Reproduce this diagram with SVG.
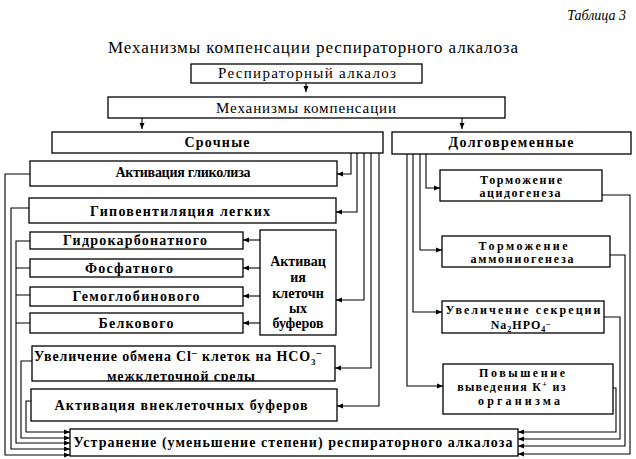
<svg xmlns="http://www.w3.org/2000/svg" width="636" height="459" viewBox="0 0 636 459" font-family="'Liberation Serif', 'DejaVu Serif', 'Noto Serif', serif">
<style>
.box{fill:#fff;stroke:#000;stroke-width:1.3}
.ln{fill:none;stroke:#000;stroke-width:1.1}
text{font-family:'Liberation Serif','DejaVu Serif',serif;fill:#000}
.b{font-weight:bold;font-size:14px;text-anchor:middle}
.s{font-weight:bold;font-size:12px;text-anchor:middle}
.r{font-size:15px;text-anchor:middle}
</style>
<defs>
<marker id="ah" markerUnits="userSpaceOnUse" markerWidth="7" markerHeight="6" refX="6" refY="3" orient="auto">
<path d="M0,0.5 L6,3 L0,5.5 z" fill="#000"/>
</marker>
<clipPath id="cl"><rect x="32" y="346" width="303" height="35"/></clipPath>
</defs>
<rect width="636" height="459" fill="#fff"/>
<text x="626" y="20" font-size="14" font-style="italic" text-anchor="end">Таблица 3</text>
<text x="313" y="53" font-size="17" text-anchor="middle" textLength="410" lengthAdjust="spacing">Механизмы компенсации респираторного алкалоза</text>

<g id="connectors" class="ln">
<path d="M306,83 V92" marker-end="url(#ah)"/>
<path d="M142,118 V129" marker-end="url(#ah)"/>
<path d="M462,118 V129" marker-end="url(#ah)"/>
<path d="M351,153 V174 H337" marker-end="url(#ah)"/>
<path d="M357,153 V212 H336" marker-end="url(#ah)"/>
<path d="M364,153 V300 H336" marker-end="url(#ah)"/>
<path d="M371,153 V368 H335" marker-end="url(#ah)"/>
<path d="M379,153 V406 H337" marker-end="url(#ah)"/>
<path d="M260,240 H243" marker-end="url(#ah)"/>
<path d="M260,268 H243" marker-end="url(#ah)"/>
<path d="M260,296 H243" marker-end="url(#ah)"/>
<path d="M260,323 H243" marker-end="url(#ah)"/>
<path d="M30,174 H5 V455 H70" marker-end="url(#ah)"/>
<path d="M29,208 H11 V449 H70" marker-end="url(#ah)"/>
<path d="M30,241 H16 V443 H70" marker-end="url(#ah)"/>
<path d="M30,268 H16 M30,295 H16 M30,323 H16"/>
<path d="M32,361 H21 V438 H70" marker-end="url(#ah)"/>
<path d="M31,401 H26 V432 H70" marker-end="url(#ah)"/>
<path d="M426,154 V188 H440" marker-end="url(#ah)"/>
<path d="M420,154 V250 H442" marker-end="url(#ah)"/>
<path d="M413,154 V312 H442" marker-end="url(#ah)"/>
<path d="M407,154 V386 H443" marker-end="url(#ah)"/>
<path d="M602,195 H630 V454 H518" marker-end="url(#ah)"/>
<path d="M610,255 H625 V446 H518" marker-end="url(#ah)"/>
<path d="M604,317 H620 V439 H518" marker-end="url(#ah)"/>
<path d="M613,388 H616 V432 H518" marker-end="url(#ah)"/>
</g>

<g id="n-resp">
<rect class="box" x="191" y="64" width="231" height="19"/>
<text class="r" x="307" y="78" textLength="178" lengthAdjust="spacing">Респираторный алкалоз</text>
</g>
<g id="n-mech">
<rect class="box" x="108" y="97" width="397" height="21"/>
<text class="r" x="306" y="113" textLength="180" lengthAdjust="spacing">Механизмы компенсации</text>
</g>
<g id="n-sroch">
<rect class="box" x="52" y="132" width="331" height="21"/>
<text class="b" x="217" y="147" textLength="65" lengthAdjust="spacing">Срочные</text>
</g>
<g id="n-dolg">
<rect class="box" x="392" y="132" width="239" height="22"/>
<text class="b" x="511" y="147" textLength="125" lengthAdjust="spacing">Долговременные</text>
</g>
<g id="n-glik">
<rect class="box" x="30" y="161" width="307" height="25"/>
<text class="b" x="183" y="177" font-size="11" textLength="135" lengthAdjust="spacing">Активация гликолиза</text>
</g>
<g id="n-gipo">
<rect class="box" x="29" y="198" width="307" height="25"/>
<text class="b" x="180" y="216" textLength="180" lengthAdjust="spacing">Гиповентиляция легких</text>
</g>
<g id="n-gidro">
<rect class="box" x="30" y="232" width="213" height="17"/>
<text class="b" x="135" y="245" textLength="144" lengthAdjust="spacing">Гидрокарбонатного</text>
</g>
<g id="n-fosf">
<rect class="box" x="30" y="259" width="213" height="18"/>
<text class="b" x="129" y="273" textLength="88" lengthAdjust="spacing">Фосфатного</text>
</g>
<g id="n-gemo">
<rect class="box" x="30" y="287" width="213" height="19"/>
<text class="b" x="136" y="301" textLength="127" lengthAdjust="spacing">Гемоглобинового</text>
</g>
<g id="n-belk">
<rect class="box" x="30" y="313" width="213" height="20"/>
<text class="b" x="136" y="328" textLength="75" lengthAdjust="spacing">Белкового</text>
</g>
<g id="n-klet">
<rect class="box" x="260" y="230" width="76" height="105"/>
<text class="b" x="298" y="266" font-size="15">Активац</text>
<text class="b" x="298" y="282" font-size="15">ия</text>
<text class="b" x="298" y="298" font-size="15">клеточн</text>
<text class="b" x="298" y="313" font-size="15">ых</text>
<text class="b" x="298" y="328" font-size="15">буферов</text>
</g>
<g id="n-obmen">
<rect class="box" x="32" y="346" width="303" height="35"/>
<text x="34" y="361" font-weight="bold" font-size="14" letter-spacing="0.85">Увеличение обмена Cl<tspan font-size="10" dy="-5">–</tspan><tspan dy="5"> клеток на НСО</tspan><tspan font-size="9" dy="4">3</tspan><tspan font-size="10" dy="-9">–</tspan></text>
<text class="b" x="181" y="381" clip-path="url(#cl)" textLength="148" lengthAdjust="spacing">межклеточной среды</text>
</g>
<g id="n-vnekl">
<rect class="box" x="31" y="389" width="306" height="32"/>
<text class="b" x="181" y="410" textLength="253" lengthAdjust="spacing">Активация внеклеточных буферов</text>
</g>
<g id="n-ustr">
<rect class="box" x="70" y="429" width="448" height="27"/>
<text class="b" x="293" y="447" textLength="439" lengthAdjust="spacing">Устранение (уменьшение степени) респираторного алкалоза</text>
</g>
<g id="n-acid">
<rect class="box" x="440" y="170" width="162" height="31"/>
<text class="s" x="521" y="184" textLength="82" lengthAdjust="spacing">Торможение</text>
<text class="s" x="520" y="197" textLength="81" lengthAdjust="spacing">ацидогенеза</text>
</g>
<g id="n-ammo">
<rect class="box" x="442" y="236" width="168" height="31"/>
<text class="s" x="523" y="250" textLength="89" lengthAdjust="spacing">Торможение</text>
<text class="s" x="522" y="263" textLength="103" lengthAdjust="spacing">аммониогенеза</text>
</g>
<g id="n-sekr">
<rect class="box" x="442" y="301" width="162" height="32"/>
<text class="s" x="523" y="314" textLength="155" lengthAdjust="spacing">Увеличение секреции</text>
<text class="s" x="521" y="329" letter-spacing="1">Na<tspan font-size="8" dy="3">2</tspan><tspan dy="-3">HPO</tspan><tspan font-size="8" dy="3">4</tspan><tspan font-size="8" dy="-6">–</tspan></text>
</g>
<g id="n-povysh">
<rect class="box" x="443" y="364" width="170" height="50"/>
<text class="s" x="522" y="377" textLength="86" lengthAdjust="spacing">Повышение</text>
<text class="s" x="512" y="391" letter-spacing="1.3">выведения К<tspan font-size="8" dy="-4">+</tspan><tspan dy="4"> из</tspan></text>
<text class="s" x="519" y="405" textLength="82" lengthAdjust="spacing">организма</text>
</g>
</svg>
